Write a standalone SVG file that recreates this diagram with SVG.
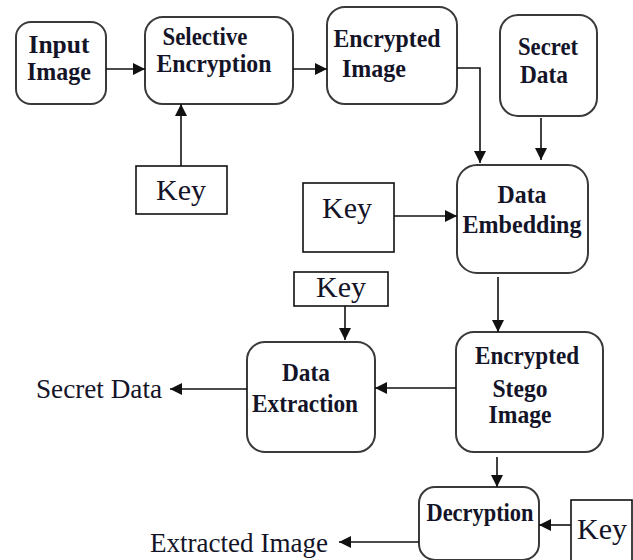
<svg xmlns="http://www.w3.org/2000/svg" width="633" height="560" viewBox="0 0 633 560">
  <style>
    .proc { fill: #fff; stroke: #3a3a3a; stroke-width: 2; }
    .key { fill: #fff; stroke: #111; stroke-width: 1.6; }
    .lbl { font-family: "Liberation Serif", "Times New Roman", serif; font-weight: bold; font-size: 25px; fill: #141428; text-anchor: middle; }
    .keytxt { font-family: "Liberation Serif", "Times New Roman", serif; font-size: 30px; fill: #141428; text-anchor: middle; }
    .out { font-family: "Liberation Serif", "Times New Roman", serif; font-size: 27px; fill: #141428; }
    .wire { fill: none; stroke: #111; stroke-width: 1.6; marker-end: url(#arrow); }
  </style>
  <defs>
    <marker id="arrow" markerUnits="userSpaceOnUse" markerWidth="12" markerHeight="12" viewBox="0 0 12 12" refX="12" refY="6" orient="auto">
      <path d="M0,0 L12,6 L0,12 Z" fill="#111"/>
    </marker>
  </defs>
  <rect width="633" height="560" fill="#fff"/>

  <g id="input-image">
    <rect class="proc" x="16" y="22" width="90" height="82" rx="15"/>
    <text class="lbl" x="59" y="53" textLength="61" lengthAdjust="spacingAndGlyphs">Input</text>
    <text class="lbl" x="59" y="80" textLength="64" lengthAdjust="spacingAndGlyphs">Image</text>
  </g>

  <g id="selective-encryption">
    <rect class="proc" x="145" y="17" width="148" height="87" rx="18"/>
    <text class="lbl" x="205" y="45" textLength="85" lengthAdjust="spacingAndGlyphs">Selective</text>
    <text class="lbl" x="214" y="72" textLength="115" lengthAdjust="spacingAndGlyphs">Encryption</text>
  </g>

  <g id="key-1">
    <rect class="key" x="136" y="166" width="91" height="48"/>
    <text class="keytxt" x="181" y="200">Key</text>
  </g>

  <g id="encrypted-image">
    <rect class="proc" x="327" y="7" width="130" height="97" rx="18"/>
    <text class="lbl" x="387" y="47" textLength="107" lengthAdjust="spacingAndGlyphs">Encrypted</text>
    <text class="lbl" x="374" y="77" textLength="64" lengthAdjust="spacingAndGlyphs">Image</text>
  </g>

  <g id="secret-data">
    <rect class="proc" x="500" y="15" width="97" height="101" rx="18"/>
    <text class="lbl" x="548" y="55" textLength="60" lengthAdjust="spacingAndGlyphs">Secret</text>
    <text class="lbl" x="544" y="83" textLength="48" lengthAdjust="spacingAndGlyphs">Data</text>
  </g>

  <g id="key-2">
    <rect class="key" x="303" y="183" width="91" height="69"/>
    <text class="keytxt" x="347" y="218">Key</text>
  </g>

  <g id="data-embedding">
    <rect class="proc" x="457" y="165" width="131" height="108" rx="20"/>
    <text class="lbl" x="522" y="203" textLength="49" lengthAdjust="spacingAndGlyphs">Data</text>
    <text class="lbl" x="522" y="233" textLength="119" lengthAdjust="spacingAndGlyphs">Embedding</text>
  </g>

  <g id="key-3">
    <rect class="key" x="294" y="272" width="94" height="34"/>
    <text class="keytxt" x="341" y="297">Key</text>
  </g>

  <g id="data-extraction">
    <rect class="proc" x="247" y="342" width="128" height="110" rx="18"/>
    <text class="lbl" x="306" y="381" textLength="48" lengthAdjust="spacingAndGlyphs">Data</text>
    <text class="lbl" x="305" y="412" textLength="106" lengthAdjust="spacingAndGlyphs">Extraction</text>
  </g>

  <g id="encrypted-stego-image">
    <rect class="proc" x="456" y="332" width="147" height="120" rx="18"/>
    <text class="lbl" x="527" y="364" textLength="104" lengthAdjust="spacingAndGlyphs">Encrypted</text>
    <text class="lbl" x="520" y="397" textLength="55" lengthAdjust="spacingAndGlyphs">Stego</text>
    <text class="lbl" x="520" y="423" textLength="63" lengthAdjust="spacingAndGlyphs">Image</text>
  </g>

  <g id="secret-data-out">
    <text class="out" x="36" y="398" textLength="126" lengthAdjust="spacingAndGlyphs">Secret Data</text>
  </g>

  <g id="decryption">
    <rect class="proc" x="419" y="487" width="120" height="73" rx="16"/>
    <text class="lbl" x="480" y="521" textLength="107" lengthAdjust="spacingAndGlyphs">Decryption</text>
  </g>

  <g id="key-4">
    <rect class="key" x="571" y="500" width="61" height="70"/>
    <text class="keytxt" x="602" y="539">Key</text>
  </g>

  <g id="extracted-image-out">
    <text class="out" x="150" y="552" textLength="178" lengthAdjust="spacingAndGlyphs">Extracted Image</text>
  </g>

  <g id="connectors">
    <path class="wire" d="M106,69 H145"/>
    <path class="wire" d="M293,69 H327"/>
    <path class="wire" d="M181,166 V104"/>
    <path class="wire" d="M457,68 H480 V163"/>
    <path class="wire" d="M541,118 V160"/>
    <path class="wire" d="M394,216 H457"/>
    <path class="wire" d="M498,277 V332"/>
    <path class="wire" d="M345,306 V340"/>
    <path class="wire" d="M456,388 H375"/>
    <path class="wire" d="M247,389 H170"/>
    <path class="wire" d="M497,457 V487"/>
    <path class="wire" d="M571,525 H539"/>
    <path class="wire" d="M419,542 H339"/>
  </g>
</svg>
